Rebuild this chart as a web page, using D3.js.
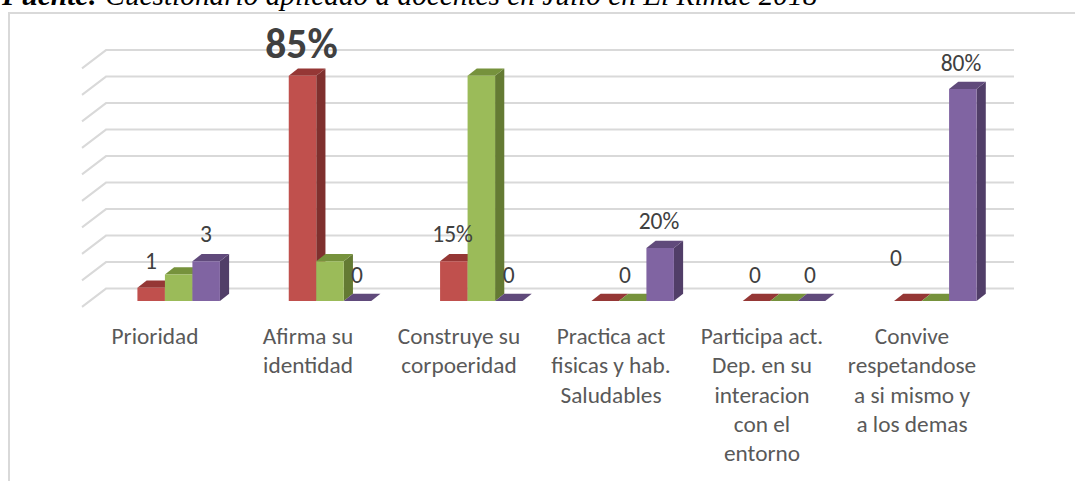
<!DOCTYPE html>
<html><head><meta charset="utf-8">
<script src="https://cdn.jsdelivr.net/npm/d3@7/dist/d3.min.js"></script>
<style>html,body{margin:0;padding:0;background:#fff;overflow:hidden}svg{display:block}</style>
</head><body><svg id="c" width="1075" height="481"></svg>
<script>
const categories = ["Prioridad","Afirma su identidad","Construye su corpoeridad","Practica act fisicas y hab. Saludables","Participa act. Dep. en su interacion con el entorno","Convive respetandose a si mismo y a los demas"];
const categoryLines = [["Prioridad"],["Afirma su","identidad"],["Construye su","corpoeridad"],["Practica act","fisicas y hab.","Saludables"],["Participa act.","Dep. en su","interacion","con el","entorno"],["Convive","respetandose","a si mismo y","a los demas"]];
const serieRoja = [5,85,15,0,0,0];
const serieVerde = [10,15,85,0,0,0];
const serieMorada = [15,0,0,20,0,80];
const etiquetasRoja = ["1","85%","15%","0","0","0"];
const etiquetasVerde = [null,null,null,null,null,null];
const etiquetasMorada = ["3","0","0","20%","0","80%"];
const gridValues = [0,10,20,30,40,50,60,70,80,90];
const title = ["Fuente:"," Cuestionario aplicado a docentes en Julio en El Rimac 2018"];

const svg = d3.select("#c");
const x = d3.scaleBand().domain(categories).range([103,1011]);
const y = d3.scaleLinear().domain([0,90]).range([301,62.5]);
const barW = 27.5, dx = 9.2, dy = 7.2;
const groupW = barW*3;
const back = v => y(v) - 12.4;

// title
svg.append("text").attr("x",2).attr("y",5).attr("font-family","'Liberation Serif'").attr("font-size",29.3).attr("font-style","italic").attr("fill","#000")
  .selectAll("tspan").data(title).join("tspan").attr("font-weight",(d,i)=>i==0?"bold":"normal").attr("xml:space","preserve").text(d=>d);
// frame
svg.append("path").attr("d","M9 481V13H1075").attr("fill","none").attr("stroke","#d9d9d9").attr("stroke-width",2);
// grid
const g = svg.append("g").attr("fill","none").attr("stroke","#d9d9d9").attr("stroke-width",2);
g.selectAll("path").data(gridValues).join("path")
  .attr("d",v=>{const b=back(v);return `M82 ${b+18.3}L106 ${b}H1014`;});

const series = [
 {v:serieRoja,f:"#c0504d",top:"#953735",side:"#7f302e",lab:etiquetasRoja},
 {v:serieVerde,f:"#9bbb59",top:"#76923c",side:"#647a33",lab:etiquetasVerde},
 {v:serieMorada,f:"#8064a2",top:"#604a7b",side:"#513e68",lab:etiquetasMorada}];
const bars = svg.append("g");
categories.forEach((c,i)=>{
  const x0 = x(c)+x.bandwidth()/2-groupW/2;
  series.forEach((s,k)=>{
    const v=s.v[i], L=x0+k*barW, R=L+barW, T=y(v), B=y(0);
    bars.append("path").attr("fill",s.side).attr("d",`M${R} ${B}L${R+dx} ${B-dy}V${T-dy}L${R} ${T}Z`);
    bars.append("path").attr("fill",s.top).attr("d",`M${L} ${T}L${L+dx} ${T-dy}H${R+dx}L${R} ${T}Z`);
    if(v>0) bars.append("rect").attr("x",L).attr("y",T).attr("width",barW).attr("height",B-T).attr("fill",s.f);
  });
});
// data labels
const fam = "Carlito,'Open Sans',sans-serif";
const labelPos = {
 "0-0":[151,268.5],"2-0":[206,242],"0-1":[301.5,58,true],"2-1":[357,283],
 "0-2":[452.6,242],"2-2":[508.6,283],"2-3":[659,229],"0-3":[625,283],
 "0-4":[755,283],"2-4":[810,283],"0-5":[896,266],"2-5":[961,71]};
series.forEach((s,k)=>s.lab.forEach((t,i)=>{
  if(t==null) return;
  const p=labelPos[k+"-"+i];
  svg.append("text").attr("x",p[0]).attr("y",p[1]).attr("text-anchor","middle").attr("font-family",fam)
    .attr("fill","#404040").attr("font-size",p[2]?41.5:23.5).attr("font-weight",p[2]?"bold":"normal").text(t);
}));
// category labels
const catX=[155,308,459,611,762,912];
const cats=svg.append("g").attr("font-family",fam).attr("font-size",23.3).attr("fill","#595959").attr("text-anchor","middle");
categoryLines.forEach((ls,i)=>ls.forEach((l,j)=>{
  cats.append("text").attr("x",catX[i]).attr("y",344+j*29.3).text(l);
}));
</script></body></html>
